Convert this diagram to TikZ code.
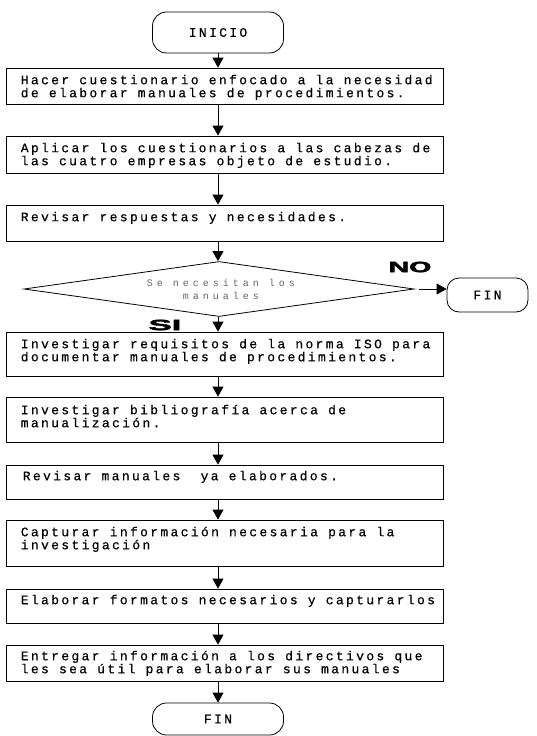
\documentclass[tikz,border=0pt]{standalone}
\usepackage{fontspec}
\usepackage{graphicx}
\newfontfamily\typ{Liberation Mono}[LetterSpace=18,FakeBold=0.4]
\newfontfamily\dtyp{Liberation Mono}[LetterSpace=40]
\newfontfamily\bsans{Liberation Sans}[BoldFeatures={FakeBold=2.5}]
\usetikzlibrary{shapes.geometric,arrows.meta}
\begin{document}
\begin{tikzpicture}[x=1pt,y=-1pt,
  procbox/.style={draw,line width=0.8pt,minimum width=437pt,inner sep=0pt},
  term/.style={draw,line width=0.8pt,rounded corners=14pt,inner sep=0pt,font=\typ\fontsize{13}{13}\selectfont},
  decide/.style={draw,line width=0.8pt,shape=diamond,inner sep=0pt,minimum width=390pt,minimum height=55pt},
  txt/.style={anchor=north west,inner sep=0pt,align=left,font=\typ\fontsize{13}{13}\selectfont},
  dtxt/.style={inner sep=0pt,align=center,text=black!60,font=\dtyp\fontsize{10}{13}\selectfont},
  yesno/.style={inner sep=0pt,font=\bsans\bfseries\fontsize{15}{15}\selectfont},
  arr/.style={line width=0.8pt,-{Triangle[width=11pt,length=10pt]}}]
\useasboundingbox (0,0) rectangle (536,736);
\fill[white] (0,0) rectangle (536,736);

% terminals
\node[term,minimum width=131pt,minimum height=41pt] (ini) at (218,32.5) {INICIO};
\node[term,minimum width=131pt,minimum height=32pt] (fin) at (218,719) {FIN};
\node[term,minimum width=81pt,minimum height=34pt,rounded corners=12pt] (fin2) at (487.5,295) {FIN};

% process boxes
\node[procbox,minimum height=36pt] (b1) at (224.5,86) {};
\node[procbox,minimum height=37pt] (b2) at (224.5,154.5) {};
\node[procbox,minimum height=36pt] (b3) at (224.5,223) {};
\node[decide] (dia) at (219,289) {};
\node[procbox,minimum height=44pt] (b4) at (224.5,354) {};
\node[procbox,minimum height=45pt] (b5) at (224.5,419.5) {};
\node[procbox,minimum height=34pt] (b6) at (224.5,482) {};
\node[procbox,minimum height=46pt] (b7) at (224.5,543) {};
\node[procbox,minimum height=34pt] (b8) at (224.5,606) {};
\node[procbox,minimum height=36pt] (b9) at (224.5,663) {};

% texts
\node[txt] (t1) at ([shift={(15pt,-7pt)}]b1.north west) {Hacer cuestionario enfocado a la necesidad\\de elaborar manuales de procedimientos.};
\node[txt] (t2) at ([shift={(15pt,-7pt)}]b2.north west) {Aplicar los cuestionarios a las cabezas de\\las cuatro empresas objeto de estudio.};
\node[txt] (t3) at ([shift={(15pt,-7pt)}]b3.north west) {Revisar respuestas y necesidades.};
\node[dtxt] (td) at (221,289) {Se necesitan los\\manuales};
\node[txt] (t4) at ([shift={(15pt,-7pt)}]b4.north west) {Investigar requisitos de la norma ISO para\\documentar manuales de procedimientos.};
\node[txt] (t5) at ([shift={(15pt,-8pt)}]b5.north west) {Investigar bibliografía acerca de\\manualización.};
\node[txt] (t6) at ([shift={(17pt,-6pt)}]b6.north west) {Revisar manuales\ \ ya elaborados.};
\node[txt] (t7) at ([shift={(15pt,-7pt)}]b7.north west) {Capturar información necesaria para la\\investigación};
\node[txt] (t8) at ([shift={(15pt,-6pt)}]b8.north west) {Elaborar formatos necesarios y capturarlos};
\node[txt] (t9) at ([shift={(15pt,-6pt)}]b9.north west) {Entregar información a los directivos que\\les sea útil para elaborar sus manuales};

% yes / no labels
\node[yesno] (no) at (410,267) {\scalebox{1.9}[1]{NO}};
\node[yesno] (si) at (165,325) {\scalebox{2.3}[1]{SI}};

% connectors
\draw[arr] (ini.south) -- (b1.north -| ini);
\draw[arr] (b1.south -| ini) -- (b2.north -| ini);
\draw[arr] (b2.south -| ini) -- (b3.north -| ini);
\draw[arr] (b3.south -| ini) -- (dia.north -| ini);
\draw[arr] (dia.south -| ini) -- (b4.north -| ini);
\draw[arr] (b4.south -| ini) -- (b5.north -| ini);
\draw[arr] (b5.south -| ini) -- (b6.north -| ini);
\draw[arr] (b6.south -| ini) -- (b7.north -| ini);
\draw[arr] (b7.south -| ini) -- (b8.north -| ini);
\draw[arr] (b8.south -| ini) -- (b9.north -| ini);
\draw[arr] (b9.south -| ini) -- (fin.north);
\draw[arr,shorten <=5pt] (dia.east) -- (dia.east -| fin2.west);
\end{tikzpicture}
\end{document}
